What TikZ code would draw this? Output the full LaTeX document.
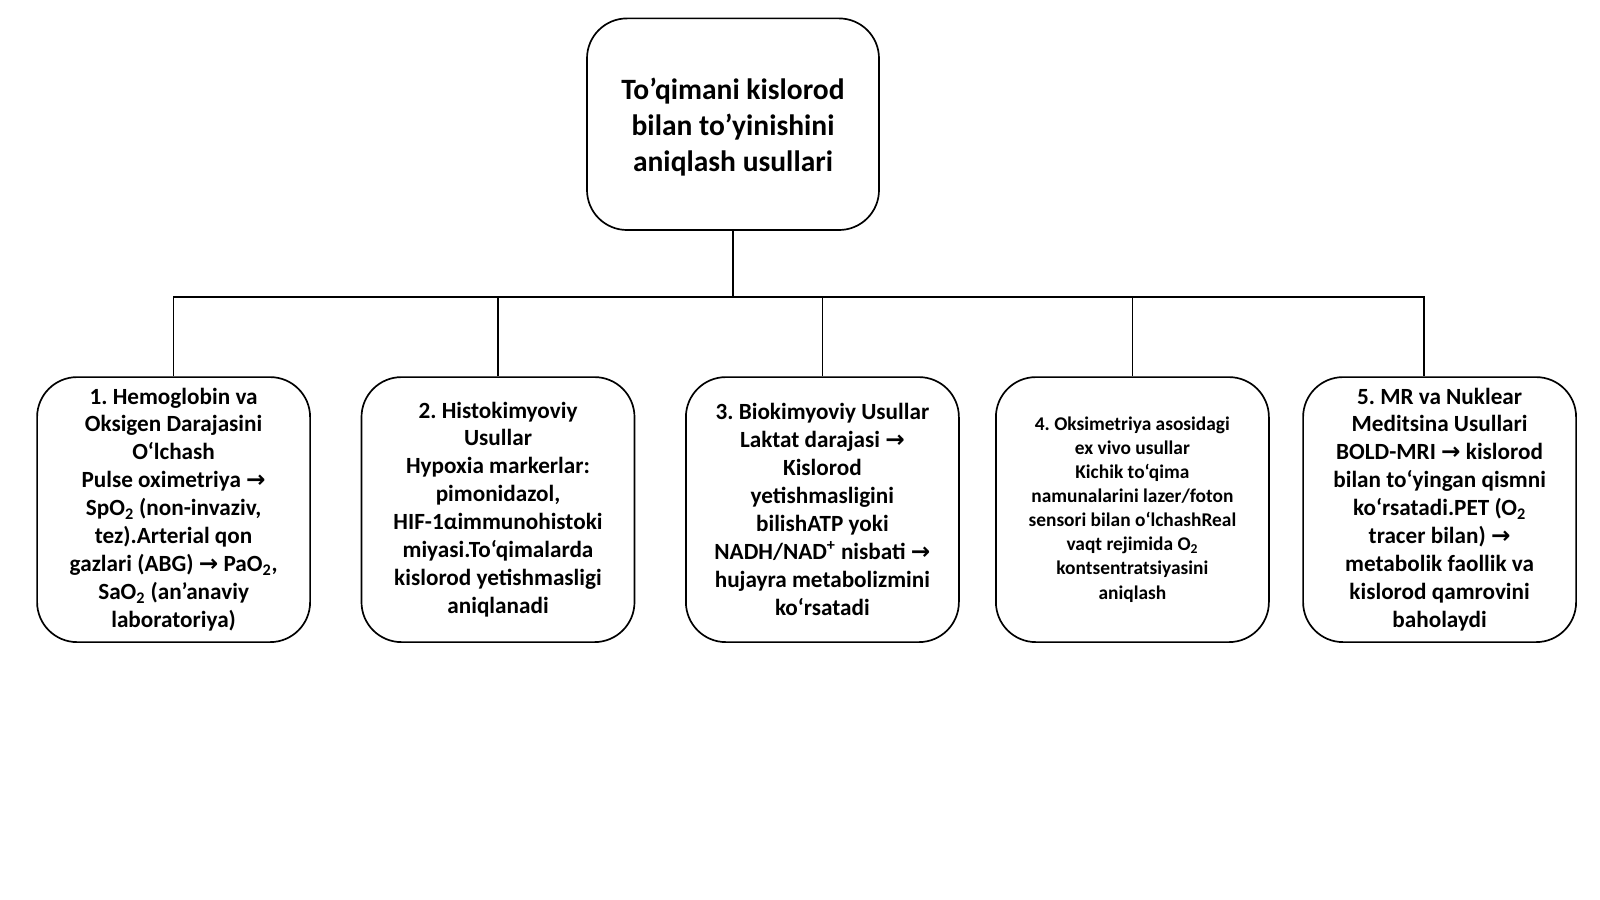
\documentclass[tikz,border=0pt]{standalone}
\usepackage{fontspec}
\setmainfont{Carlito}
\newfontfamily\setafont{DejaVu Sans}
\usetikzlibrary{
    positioning, % Para posicionar nós de forma relativa
    calc
}
\newcommand{\seta}{{\setafont\bfseries →}}
\newcommand{\dois}{\textsubscript{2}}
\frenchspacing

\begin{document}
\begin{tikzpicture}

    % --- Definição de Estilos ---
    \tikzset{
        % Estilo para a caixa do título
        titulo/.style={
            draw,
            line width=1.2pt,
            rounded corners=1cm,
            minimum height=5.29cm,
            minimum width=7.3cm,
            align=center,
            font=\fontsize{21}{25.5}\selectfont\bfseries
        },
        % Estilo para as caixas dos métodos
        metodo/.style={
            draw,
            line width=1.2pt,
            rounded corners=1cm,
            minimum height=6.625cm,
            minimum width=6.825cm,
            align=center,
            font=\fontsize{16.5}{19.9}\selectfont\bfseries
        },
        % Estilo para as linhas de ligação
        ligacao/.style={
            line width=1.2pt
        }
    }

    % --- Margens da figura ---
    \useasboundingbox (0,0) rectangle (40,-22.475);

    % --- Caixa do título ---
    \node[titulo] (titulo) at (18.325,-3.105) {\\[-6pt]To’qimani kislorod\\bilan to’yinishini\\aniqlash usullari};

    % --- Caixas dos métodos ---
    \node[metodo] (metodo1) at (4.34,-12.74) {1. Hemoglobin va\\Oksigen Darajasini\\O‘lchash\\Pulse oximetriya \seta\\SpO\dois{} (non-invaziv,\\tez).Arterial qon\\gazlari (ABG) \seta{} PaO\dois,\\SaO\dois{} (an’anaviy\\laboratoriya)};
    \node[metodo] (metodo2) at (12.45,-12.74) {2. Histokimyoviy\\Usullar\\Hypoxia markerlar:\\pimonidazol,\\HIF-1αimmunohistoki\\miyasi.To‘qimalarda\\kislorod yetishmasligi\\aniqlanadi};
    \node[metodo] (metodo3) at (20.56,-12.74) {3. Biokimyoviy Usullar\\Laktat darajasi \seta\\Kislorod\\yetishmasligini\\bilishATP yoki\\NADH/NAD\textsuperscript{+} nisbati \seta\\hujayra metabolizmini\\ko‘rsatadi};
    \node[metodo, font=\fontsize{13.8}{17.1}\selectfont\bfseries] (metodo4) at (28.31,-12.74) {4. Oksimetriya asosidagi\\ex vivo usullar\\Kichik to‘qima\\namunalarini lazer/foton\\sensori bilan o‘lchashReal\\vaqt rejimida O\dois\\kontsentratsiyasini\\aniqlash};
    \node[metodo] (metodo5) at (35.99,-12.74) {5. MR va Nuklear\\Meditsina Usullari\\BOLD-MRI \seta{} kislorod\\bilan to‘yingan qismni\\ko‘rsatadi.PET (O\dois\\tracer bilan) \seta\\metabolik faollik va\\kislorod qamrovini\\baholaydi};

    % --- Linhas de ligação ---
    \coordinate (barra) at (0,-7.425);
    \coordinate (topo5) at ([xshift=-0.39cm]metodo5.north);

    \draw[ligacao] (titulo.south) -- (titulo.south |- barra);
    \draw[ligacao] (metodo1.north) -- (metodo1.north |- barra) -- (topo5 |- barra) -- (topo5);
    \draw[ligacao] (metodo2.north) -- (metodo2.north |- barra);
    \draw[ligacao] (metodo3.north) -- (metodo3.north |- barra);
    \draw[ligacao] (metodo4.north) -- (metodo4.north |- barra);

\end{tikzpicture}
\end{document}
